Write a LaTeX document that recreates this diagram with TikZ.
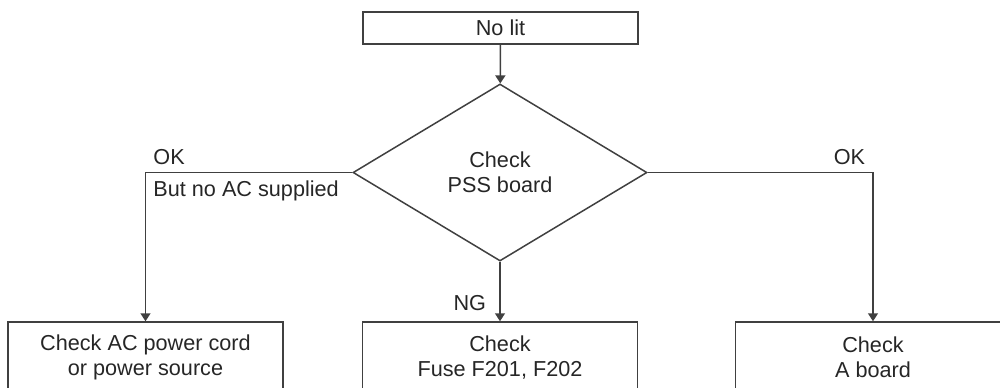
\documentclass[tikz,border=0pt]{standalone}
\usepackage{fontspec}
\setmainfont{Liberation Sans}
\usetikzlibrary{
    arrows.meta,
    positioning,
    shapes.geometric
}

\begin{document}
\begin{tikzpicture}[
        x=0.25mm, y=-0.25mm,
        >={Triangle[length=2mm,width=2.5mm]},
        every node/.style={
            font=\fontsize{15.4}{17.8}\selectfont,
            text=black!85
        },
        box/.style={
            rectangle,
            draw=black!75,
            line width=0.375mm,
            minimum width=68.75mm,
            minimum height=17.75mm,
            align=center
        },
        decision/.style={
            diamond,
            draw=black!75,
            line width=0.375mm,
            minimum width=73.5mm,
            minimum height=44.25mm,
            inner sep=0pt,
            align=center
        },
        flow/.style={->, draw=black!75, line width=0.375mm},
        lbl/.style={inner sep=1.8mm}
    ]
        \useasboundingbox (0,0) rectangle (1000,387);
        \clip (0,0) rectangle (1000,387);

        \node[box, minimum height=8mm] (nolit) at (500.5,28) {No lit};
        \node[decision] (pss) at (500,172.5) {Check\\PSS board};
        \node[box] (cord) at (145.5,357.5) {Check AC power cord\\or power source};
        \node[box] (fuse) at (500,357.5) {Check\\Fuse F201, F202};
        \node[box] (aboard) at (873,357.5) {Check\\A board};

        \draw[flow] (nolit) -- (pss);
        \draw[flow] (pss.west) -|
            node[pos=0.5, above right, lbl] {OK}
            node[pos=0.5, below right, lbl] {But no AC supplied}
            (cord);
        \draw[flow] (pss.east) -|
            node[pos=0.5, above left, lbl] {OK}
            (aboard);
        \draw[flow] (pss) --
            node[pos=0.7, left, lbl, xshift=-1.5mm] {NG}
            (fuse);
    \end{tikzpicture}
\end{document}
